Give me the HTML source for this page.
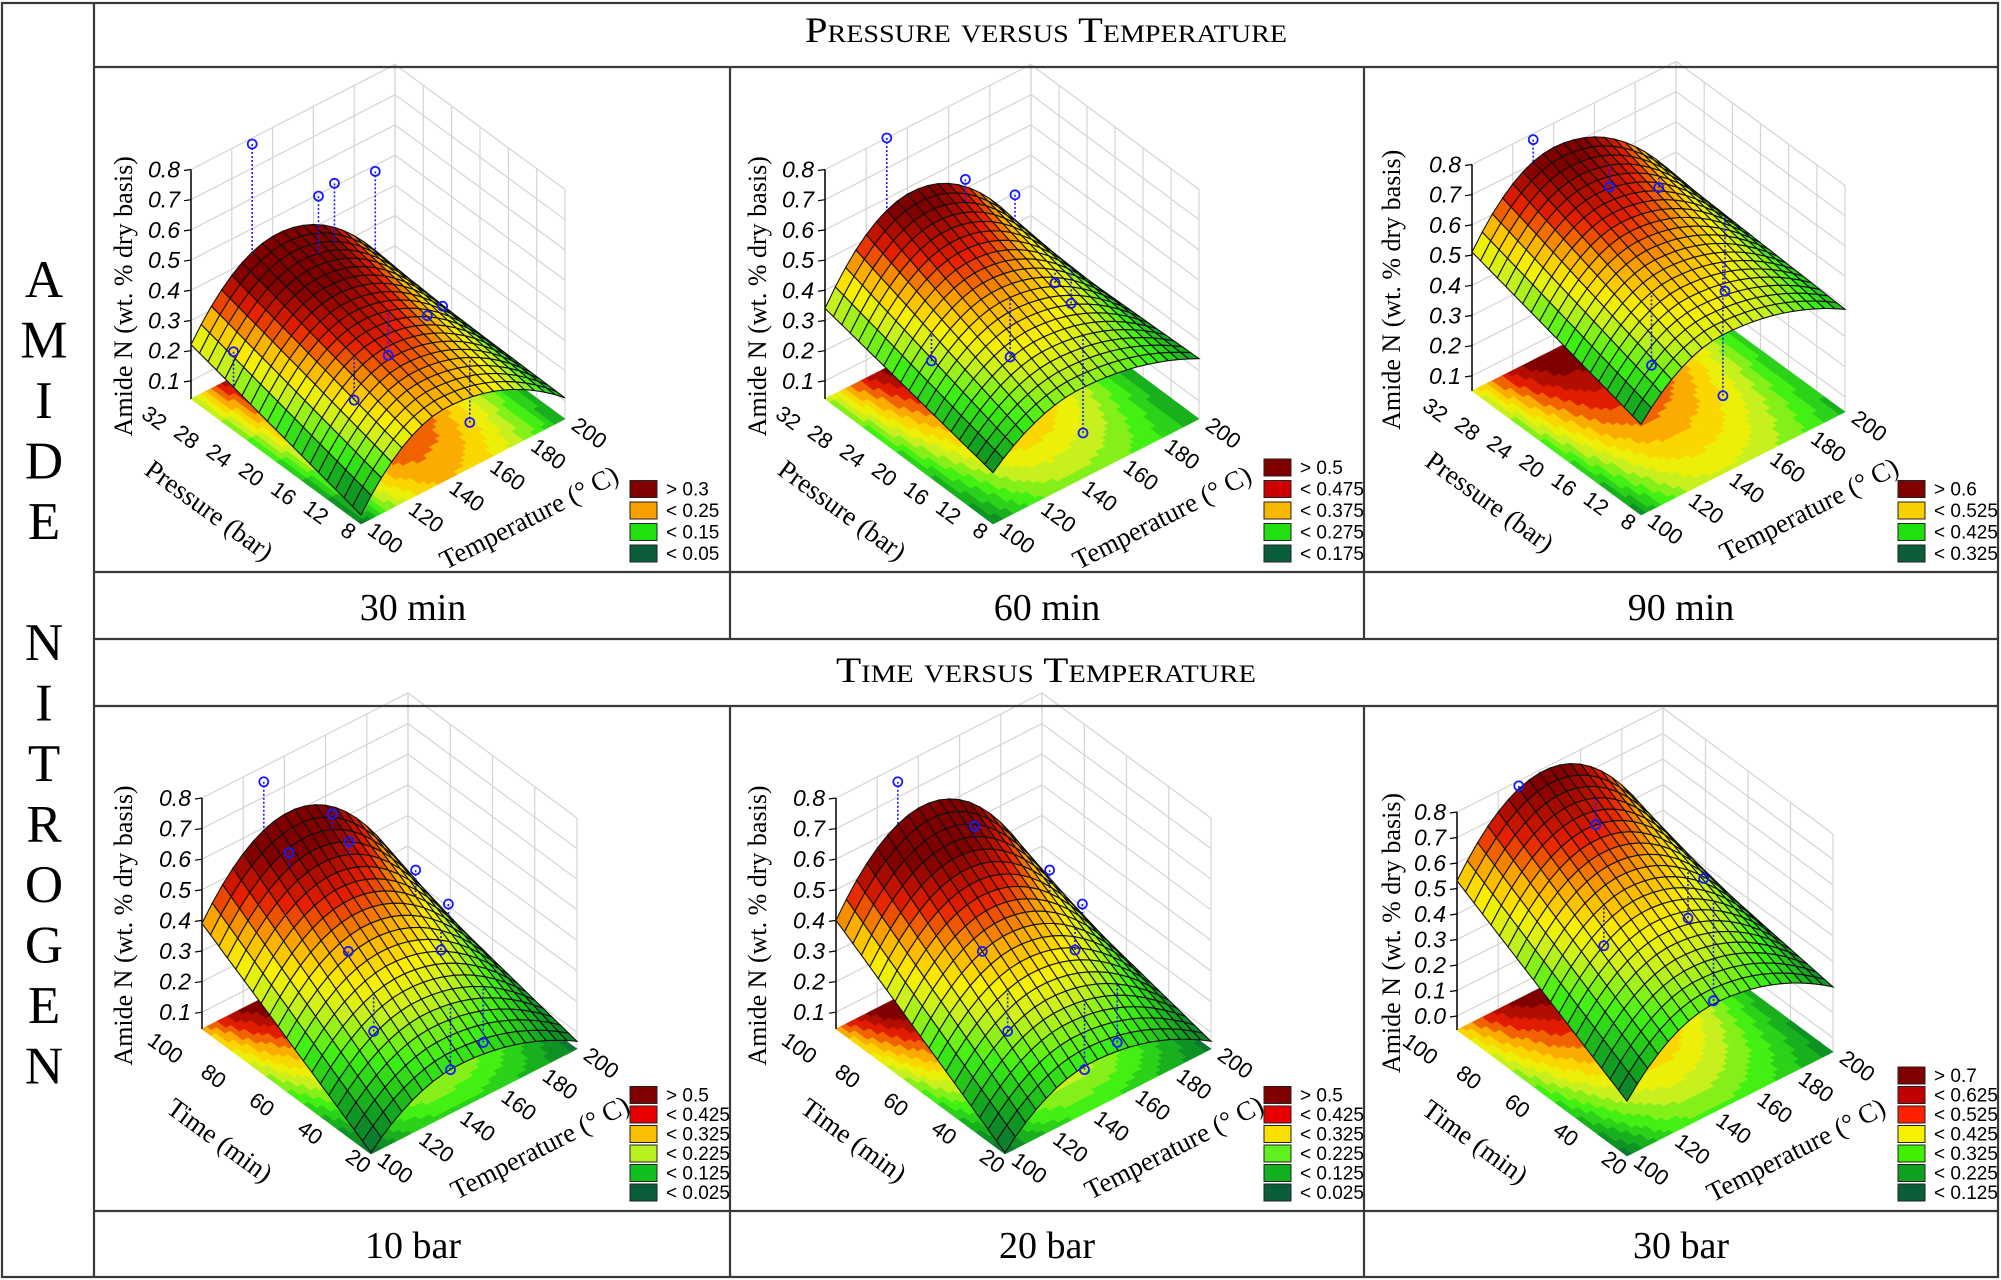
<!DOCTYPE html>
<html><head><meta charset="utf-8"><style>
html,body{margin:0;padding:0;background:#fff;}
svg{display:block;}
</style></head><body>
<svg id="s" xmlns="http://www.w3.org/2000/svg" width="2001" height="1280" viewBox="0 0 2001 1280">
<rect x="0" y="0" width="2001" height="1280" fill="#fff"/>
<g id="plots"></g>
<g fill="none" stroke="#3a3a3a" stroke-width="2.2">
<rect x="2" y="3" width="1996" height="1274"/>
<line x1="94" y1="3" x2="94" y2="1277"/>
<line x1="94" y1="67" x2="1998" y2="67"/>
<line x1="94" y1="572" x2="1998" y2="572"/>
<line x1="94" y1="639" x2="1998" y2="639"/>
<line x1="94" y1="706" x2="1998" y2="706"/>
<line x1="94" y1="1211" x2="1998" y2="1211"/>
<line x1="730" y1="67" x2="730" y2="639"/>
<line x1="1364" y1="67" x2="1364" y2="639"/>
<line x1="730" y1="706" x2="730" y2="1277"/>
<line x1="1364" y1="706" x2="1364" y2="1277"/>
</g>
<g font-family="Liberation Serif, serif" fill="#000" text-anchor="middle">
<text x="1046" y="42" font-size="36" style="font-variant:small-caps" textLength="482" lengthAdjust="spacingAndGlyphs">Pressure versus Temperature</text>
<text x="1046" y="682" font-size="36" style="font-variant:small-caps" textLength="420" lengthAdjust="spacingAndGlyphs">Time versus Temperature</text>
<text x="413" y="620" font-size="38">30 min</text>
<text x="1047" y="620" font-size="38">60 min</text>
<text x="1681" y="620" font-size="38">90 min</text>
<text x="413" y="1258" font-size="38">10 bar</text>
<text x="1047" y="1258" font-size="38">20 bar</text>
<text x="1681" y="1258" font-size="38">30 bar</text>
<g id="letters" font-size="53"></g>
</g>
</svg>
<script>
(function(){
var word="AMIDE NITROGEN";var lg=document.getElementById("letters");var h="";
for(var i=0;i<word.length;i++){if(word[i]==" ")continue;h+='<text x="44" y="'+(297+60.5*i)+'">'+word[i]+'</text>';}
lg.innerHTML=h;
var stops=[[0,[11,94,58]],[0.18,[16,160,32]],[0.35,[60,240,20]],[0.5,[200,240,30]],[0.6,[250,240,0]],[0.72,[250,170,0]],[0.85,[230,30,0]],[1,[128,0,0]]];
function cmap(s){if(s<0)s=0;if(s>1)s=1;for(var i=1;i<stops.length;i++){if(s<=stops[i][0]){var a=stops[i-1],b=stops[i];var f=(s-a[0])/(b[0]-a[0]);var c=[0,1,2].map(function(k){return Math.round(a[1][k]+(b[1][k]-a[1][k])*f);});return "rgb("+c.join(",")+")";}}return "rgb(128,0,0)";}
var panels=[
 {ox:96,oy:67,A:[95,332],B:[265,457],C:[469,352],k:302,zf:0.04,L:[.07,.22],P:[.28,.44],R:[.11,.12],tc:.42,zlo:.05,zhi:.39,vy:"Pressure (bar)",vt:[8,12,16,20,24,28,32],ticks0:.1,
  leg:[["> 0.3","#800000"],["< 0.25","#f8a000"],["< 0.15","#20e010"],["< 0.05","#0b5e3a"]],
  pts:[[.3,1,.78],[.5,.85,.6],[.62,.9,.58],[.82,.9,.55],[0,.75,.3],[.3,.4,.18],[.55,.5,.2],[.7,.45,.3],[.9,.6,.2],[.7,.2,.05]]},
 {ox:730,oy:67,A:[95,332],B:[263,457],C:[469,352],k:302,zf:0.04,L:[.21,.34],P:[.34,.58],R:[.24,.22],tc:.42,zlo:.17,zhi:.56,vy:"Pressure (bar)",vt:[8,12,16,20,24,28,32],ticks0:.1,
  leg:[["> 0.5","#800000"],["< 0.475","#cc0000"],["< 0.375","#f8b800"],["< 0.275","#20e010"],["< 0.175","#0b5e3a"]],
  pts:[[.3,1,.8],[.6,.9,.6],[.8,.85,.5],[.15,.55,.3],[.45,.45,.25],[.75,.55,.35],[.95,.7,.15],[.6,.2,.05]]},
 {ox:1364,oy:67,A:[108,324],B:[277,448],C:[481,345],k:302,zf:0.05,L:[.35,.51],P:[.51,.72],R:[.39,.42],tc:.4,zlo:.3,zhi:.70,vy:"Pressure (bar)",vt:[8,12,16,20,24,28,32],ticks0:.1,
  leg:[["> 0.6","#800000"],["< 0.525","#f8d000"],["< 0.425","#20e010"],["< 0.325","#0b5e3a"]],
  pts:[[.3,1,.78],[.55,.85,.6],[.75,.8,.55],[.3,.3,.32],[.65,.3,.1],[.95,.65,.2]]},
 {ox:96,oy:706,A:[106,323],B:[275,448],C:[481,343],k:306,zf:0.045,L:[.05,.39],P:[.19,.61],R:[.07,.2],tc:.42,zlo:.03,zhi:.55,vy:"Time (min)",vt:[20,40,60,80,100],ticks0:.1,
  leg:[["> 0.5","#800000"],["< 0.425","#e80000"],["< 0.325","#f8c000"],["< 0.225","#b8f020"],["< 0.125","#10c020"],["< 0.025","#0b5e3a"]],
  pts:[[.3,1,.75],[.3,.85,.58],[.55,.8,.55],[.55,.9,.6],[.3,.5,.4],[.3,.35,.2],[.75,.65,.45],[.75,.5,.25],[.95,.7,.25],[.55,.2,.05],[.75,.25,.05]]},
 {ox:730,oy:706,A:[106,323],B:[275,448],C:[481,343],k:306,zf:0.045,L:[.05,.4],P:[.2,.63],R:[.07,.2],tc:.42,zlo:.03,zhi:.55,vy:"Time (min)",vt:[20,40,60,80,100],ticks0:.1,
  leg:[["> 0.5","#800000"],["< 0.425","#e80000"],["< 0.325","#f8e000"],["< 0.225","#60f020"],["< 0.125","#10b020"],["< 0.025","#0b5e3a"]],
  pts:[[.3,1,.75],[.55,.85,.58],[.3,.5,.4],[.3,.35,.2],[.75,.65,.45],[.75,.5,.25],[.95,.7,.25],[.55,.2,.05],[.75,.25,.05]]},
 {ox:1364,oy:706,A:[93,324],B:[263,450],C:[469,346],k:255,zf:-0.055,L:[.16,.53],P:[.37,.79],R:[.2,.3],tc:.42,zlo:.12,zhi:.77,vy:"Time (min)",vt:[20,40,60,80,100],ticks0:0,
  leg:[["> 0.7","#800000"],["< 0.625","#c00000"],["< 0.525","#ff2000"],["< 0.425","#f8f000"],["< 0.325","#40f000"],["< 0.225","#10a020"],["< 0.125","#0b5e3a"]],
  pts:[[.3,1,.78],[.55,.85,.6],[.3,.5,.4],[.75,.55,.3],[.95,.7,.3],[.75,.4,.05]]}
];
var out="";
panels.forEach(function(p){
 var A=p.A,B=p.B,C=p.C;
 function pr(u,v,z){return [p.ox+B[0]+u*(C[0]-B[0])+v*(A[0]-B[0]), p.oy+B[1]+u*(C[1]-B[1])+v*(A[1]-B[1])-(z-p.zf)*p.k];}
 function f(u,v){var L=p.L[0]+(p.L[1]-p.L[0])*v,P=p.P[0]+(p.P[1]-p.P[0])*v,R=p.R[0]+(p.R[1]-p.R[0])*v;
  if(u<p.tc){var d=(p.tc-u)/p.tc;return L+(P-L)*(1-d*d);}var e=(u-p.tc)/(1-p.tc);return R+(P-R)*(1-e*e);}
 function sc(z){return (z-p.zlo)/(p.zhi-p.zlo);}
 function pt(a){return a[0].toFixed(1)+","+a[1].toFixed(1);}
 var g="";
 var ztop=0.8;var zt=[];for(var z=p.ticks0;z<=0.801;z+=0.1)zt.push(z);
 var gs='stroke="#d4d4d4" stroke-width="1.2" fill="none"';
 zt.forEach(function(z){g+='<polyline '+gs+' points="'+pt(pr(0,1,z))+' '+pt(pr(1,1,z))+' '+pt(pr(1,0,z))+'"/>';});
 for(var i=0;i<=5;i++){var u=i/5;g+='<line '+gs+' x1="'+pr(u,1,p.zf)[0]+'" y1="'+pr(u,1,p.zf)[1]+'" x2="'+pr(u,1,ztop)[0]+'" y2="'+pr(u,1,ztop)[1]+'"/>';}
 var nv=p.vt.length-1;
 for(var i=0;i<=nv;i++){var v=i/nv;g+='<line '+gs+' x1="'+pr(1,v,p.zf)[0]+'" y1="'+pr(1,v,p.zf)[1]+'" x2="'+pr(1,v,ztop)[0]+'" y2="'+pr(1,v,ztop)[1]+'"/>';}
 g+='<polyline '+gs+' points="'+pt(pr(0,1,p.zf))+' '+pt(pr(1,1,p.zf))+' '+pt(pr(1,0,p.zf))+'"/>';
 var N=40;
 for(var i=0;i<N;i++)for(var j=0;j<N;j++){var u=(i+.5)/N,v=(j+.5)/N;var s=Math.round(sc(f(u,v))*14)/14;var c=cmap(s);
  g+='<polygon fill="'+c+'" stroke="'+c+'" stroke-width="0.6" points="'+pt(pr(i/N,j/N,p.zf))+' '+pt(pr((i+1)/N,j/N,p.zf))+' '+pt(pr((i+1)/N,(j+1)/N,p.zf))+' '+pt(pr(i/N,(j+1)/N,p.zf))+'"/>';}
 g+='<line stroke="#000" stroke-width="1.5" x1="'+pr(0,1,p.zf)[0]+'" y1="'+pr(0,1,p.zf)[1]+'" x2="'+pr(0,1,ztop)[0]+'" y2="'+pr(0,1,ztop)[1]+'"/>';
 zt.forEach(function(z){var q=pr(0,1,z);g+='<line stroke="#000" stroke-width="1.2" x1="'+q[0]+'" y1="'+q[1]+'" x2="'+(q[0]-7)+'" y2="'+(q[1]+1)+'"/>';
  g+='<text x="'+(q[0]-11)+'" y="'+(q[1]+8)+'" font-family="Liberation Sans, sans-serif" font-size="23" font-style="italic" text-anchor="end">'+z.toFixed(1)+'</text>';});
 var M=20,quads=[];
 for(var i=0;i<M;i++)for(var j=0;j<M;j++){quads.push([i,j,(i+j)]);}
 quads.sort(function(a,b){return b[2]-a[2];});
 quads.forEach(function(q){var i=q[0],j=q[1];var u0=i/M,u1=(i+1)/M,v0=j/M,v1=(j+1)/M;
  function P(u,v){var z=f(u,v);if(z<p.zf)z=p.zf;return pr(u,v,z);}
  var c=cmap(sc(f((u0+u1)/2,(v0+v1)/2)));
  g+='<polygon fill="'+c+'" stroke="#111" stroke-width="1.1" points="'+pt(P(u0,v0))+' '+pt(P(u1,v0))+' '+pt(P(u1,v1))+' '+pt(P(u0,v1))+'"/>';});
 p.pts.forEach(function(q){var a=pr(q[0],q[1],q[2]),b=pr(q[0],q[1],f(q[0],q[1]));
  g+='<line x1="'+a[0]+'" y1="'+a[1]+'" x2="'+b[0]+'" y2="'+b[1]+'" stroke="#1a1aff" stroke-width="1.6" stroke-dasharray="2,2"/>';
  g+='<circle cx="'+a[0]+'" cy="'+a[1]+'" r="4.5" fill="none" stroke="#1a1aff" stroke-width="1.8"/>';});
 var T=[100,120,140,160,180,200];
 T.forEach(function(t,i){var q=pr(i/5,0,p.zf);var x=q[0]+20,y=q[1]+20;
  g+='<text transform="translate('+x+','+y+') rotate(36)" font-family="Liberation Sans, sans-serif" font-size="22" text-anchor="middle">'+t+'</text>';});
 p.vt.forEach(function(t,i){var v=i/nv;var q=pr(0,v,p.zf);var x=q[0]-17-24*v,y=q[1]+13+12*v;
  g+='<text transform="translate('+x+','+y+') rotate(36)" font-family="Liberation Sans, sans-serif" font-size="22" text-anchor="middle">'+t+'</text>';});
 var mA=pr(0,.5,p.zf),mC=pr(.5,0,p.zf);
 g+='<text transform="translate('+(mA[0]-72)+','+(mA[1]+56)+') rotate(36)" font-family="Liberation Serif, serif" font-size="27" text-anchor="middle">'+p.vy+'</text>';
 g+='<text transform="translate('+(mC[0]+70)+','+(mC[1]+54)+') rotate(-27)" font-family="Liberation Serif, serif" font-size="27" text-anchor="middle">Temperature (° C)</text>';
 var ax=pr(0,1,p.zf),at=pr(0,1,ztop);
 g+='<text transform="translate('+(p.ox+36)+','+((ax[1]+at[1])/2+12)+') rotate(-90)" font-family="Liberation Serif, serif" font-size="26" text-anchor="middle">Amide N (wt. % dry basis)</text>';
 var n=p.leg.length,sp=n>5?19.5:21.5;
 p.leg.forEach(function(l,i){var y=p.oy+478-(n-1-i)*sp;
  g+='<rect x="'+(p.ox+534)+'" y="'+y+'" width="27" height="17" fill="'+l[1]+'" stroke="#222" stroke-width="1"/>';
  g+='<text x="'+(p.ox+570)+'" y="'+(y+15)+'" font-family="Liberation Sans, sans-serif" font-size="19">'+l[0].replace("<","&lt;").replace(">","&gt;")+'</text>';});
 out+=g;
});
document.getElementById("plots").innerHTML=out;
})();
</script>
</body></html>
